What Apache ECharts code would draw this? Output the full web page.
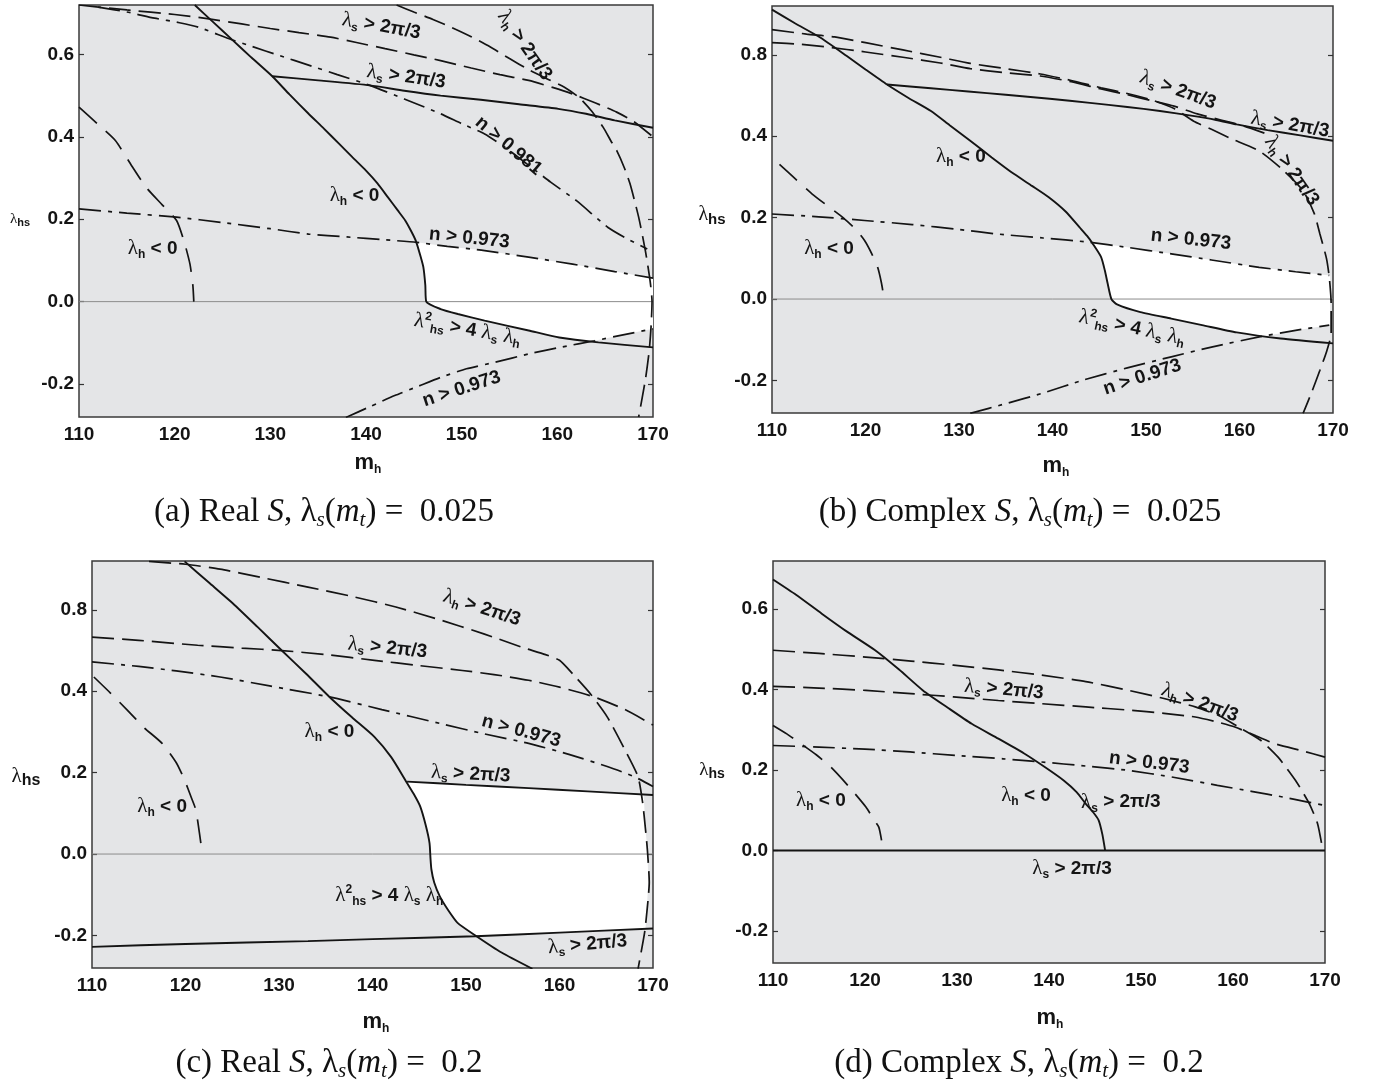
<!DOCTYPE html>
<html>
<head>
<meta charset="utf-8">
<script src="https://cdn.jsdelivr.net/npm/echarts@6/dist/echarts.min.js"></script>
<style>
  html, body { margin: 0; background: #fff; }
  #chart { width: 1378px; height: 1087px; }
</style>
</head>
<body>
<div id="chart"></div>
<script>
// tick values / labels (panels b and c print "0.8" on the top tick)
const yTickValues = [-0.2, 0, 0.2, 0.4, 0.6];
const yLabelsA = ["-0.2", "0.0", "0.2", "0.4", "0.6"];
const yLabelsB = ["-0.2", "0.0", "0.2", "0.4", "0.8"];
const yLabelsC = ["-0.2", "0.0", "0.2", "0.4", "0.8"];
const yLabelsD = ["-0.2", "0.0", "0.2", "0.4", "0.6"];
const zeroLine = [[110, 0], [170, 0]];

// (a) real S, lambda_s = 0.025
const aLamHSolid = [[122.1,0.72],[124,0.679],[126,0.636],[128,0.593],[130.2,0.547],[132,0.503],[134,0.456],[135.6,0.42],[137.2,0.383],[138.6,0.35],[140,0.318],[141.2,0.287],[142.3,0.253],[143.3,0.222],[144.1,0.197],[144.7,0.172],[145.2,0.148],[145.7,0.11],[146,0.083],[146.2,0.04],[146.3,0],[147.8,-0.018],[149.6,-0.03],[152.4,-0.046],[157,-0.07],[160.2,-0.087],[164.3,-0.099],[170,-0.111]];
const aLamSSolid = [[130.2,0.547],[135,0.537],[140.4,0.525],[144,0.512],[147.8,0.5],[152,0.49],[156,0.479],[160.1,0.468],[163,0.456],[166,0.44],[170,0.422]];
const aLamSDash = [[110,0.72],[115,0.708],[120,0.697],[123.4,0.687],[127,0.674],[130,0.663],[133,0.653],[136.3,0.642],[139,0.629],[142,0.614],[145,0.599],[147.8,0.585],[151,0.567],[154,0.551],[157,0.537],[159.5,0.52],[161.6,0.504],[164,0.482],[166.2,0.46],[168,0.437],[170,0.4]];
const aN981 = [[112,0.715],[115,0.703],[117.9,0.688],[120.5,0.677],[122.5,0.666],[125.7,0.638],[128,0.62],[131,0.597],[134,0.574],[137,0.551],[140.4,0.525],[144,0.492],[147.8,0.456],[150,0.432],[152.4,0.407],[154.5,0.375],[156.5,0.34],[159.3,0.29],[162,0.245],[165.3,0.18],[167.5,0.15],[169.4,0.128]];
const aLamHDash = [[143.2,0.72],[145,0.703],[147,0.685],[149,0.665],[151,0.643],[153,0.618],[155,0.59],[157,0.563],[159,0.54],[160.7,0.521],[162.3,0.495],[163.6,0.462],[164.8,0.423],[165.6,0.39],[166.2,0.367],[167,0.325],[167.6,0.286],[168.5,0.205],[169.2,0.124],[169.7,0.05],[169.9,0],[169.8,-0.06],[169.6,-0.12],[169.2,-0.19],[168.5,-0.28]];
const aN973Up = [[110,0.225],[115,0.215],[120.2,0.205],[125,0.192],[130,0.177],[134,0.164],[138,0.157],[142,0.15],[145.3,0.144],[148.5,0.134],[152.4,0.124],[157,0.108],[161.6,0.091],[166,0.073],[170,0.057]];
const aN973Low = [[137.9,-0.281],[140.5,-0.254],[143,-0.228],[145.5,-0.205],[147.8,-0.184],[150.5,-0.163],[153.5,-0.147],[157,-0.127],[160.5,-0.11],[163.9,-0.095],[167,-0.08],[170,-0.066]];
const aLamHLeft = [[110,0.472],[112,0.43],[113.8,0.391],[115.5,0.33],[117,0.278],[118.7,0.235],[120.2,0.197],[121,0.145],[121.6,0.091],[121.9,0.04],[122,0]];
const aWhite = [[145.3,0.144],[145.7,0.11],[146,0.083],[146.2,0.04],[146.3,0],[147.8,-0.018],[149.6,-0.03],[152.4,-0.046],[157,-0.07],[160.2,-0.087],[163.5,-0.097],[167,-0.08],[170,-0.066],[170,0.057],[166,0.073],[161.6,0.091],[157,0.108],[152.4,0.124],[148.5,0.134],[145.3,0.144]];

// (b) complex S, lambda_s = 0.025
const bLamHSolid = [[110,0.711],[112.5,0.677],[115.2,0.642],[118,0.597],[120,0.564],[122.3,0.527],[124.6,0.494],[127,0.462],[129,0.427],[131.2,0.389],[133.5,0.348],[135.9,0.307],[137.8,0.278],[139.6,0.25],[141.4,0.215],[142.9,0.176],[143.7,0.155],[144.3,0.136],[145.2,0.103],[145.6,0.07],[145.9,0.038],[146.3,0],[146.9,-0.013],[149.4,-0.032],[152.7,-0.048],[156,-0.064],[159.7,-0.082],[164.4,-0.097],[170,-0.109]];
const bLamSSolid = [[122.3,0.527],[127,0.518],[131,0.51],[135,0.502],[139.7,0.492],[144,0.482],[148,0.472],[151.5,0.462],[155,0.45],[157.5,0.44],[159.7,0.429],[163,0.415],[166.5,0.402],[170,0.389]];
const bLamHDash = [[110,0.662],[113.7,0.651],[116.7,0.644],[120,0.63],[124,0.612],[128,0.594],[131.2,0.579],[135,0.566],[138.7,0.553],[142,0.537],[145.2,0.519],[148,0.505],[150.5,0.49],[153,0.468],[155.1,0.437],[157,0.417],[159,0.395],[162.1,0.364],[164.5,0.32],[166.8,0.266],[168,0.21],[168.6,0.16],[169.3,0.1],[169.6,0.054],[169.8,-0.01],[169.8,-0.085],[169.3,-0.13],[168.6,-0.175],[167.7,-0.23],[166.8,-0.281]];
const bLamSDash = [[110,0.63],[113,0.626],[116,0.619],[120,0.607],[124,0.594],[128,0.58],[131.2,0.566],[135,0.556],[138.7,0.548],[142,0.534],[145.2,0.516],[148,0.502],[150.5,0.488],[153,0.474],[155.5,0.455],[158,0.44],[160.5,0.425],[163,0.405]];
const bN973Up = [[110,0.209],[115,0.202],[119.9,0.193],[125,0.183],[130,0.171],[134,0.16],[139,0.15],[143.8,0.14],[148,0.127],[152.7,0.111],[157,0.096],[162.1,0.078],[166,0.067],[169.6,0.058]];
const bN973Low = [[131.2,-0.281],[135,-0.257],[139,-0.231],[143.3,-0.199],[148,-0.169],[152.7,-0.142],[157,-0.118],[162.1,-0.093],[166,-0.077],[169.6,-0.064]];
const bLamHLeft = [[110.8,0.331],[112.5,0.295],[114.3,0.258],[116,0.228],[117.6,0.2],[119,0.17],[119.9,0.144],[120.7,0.11],[121.3,0.078],[121.7,0.04],[122,0]];
const bWhite = [[144,0.14],[144.3,0.136],[145.2,0.103],[145.6,0.07],[145.9,0.038],[146.3,0],[146.9,-0.013],[149.4,-0.032],[152.7,-0.048],[156,-0.064],[159.7,-0.082],[162.8,-0.091],[166,-0.077],[169.7,-0.064],[169.7,0.058],[166,0.067],[162.1,0.078],[157,0.096],[152.7,0.111],[148,0.127],[144,0.14]];

// (c) real S, lambda_s = 0.2
const cLamHSolid = [[119.9,0.719],[122.5,0.667],[125.1,0.615],[127.7,0.558],[130.3,0.5],[132.9,0.443],[135.4,0.386],[137.8,0.336],[140.2,0.288],[142,0.238],[143.5,0.182],[144.4,0.148],[145.1,0.117],[145.7,0.07],[146.1,0.027],[146.2,-0.01],[146.3,-0.038],[146.6,-0.07],[147.2,-0.104],[148.1,-0.138],[149.1,-0.169],[151,-0.2],[153.8,-0.242],[157.1,-0.282]];
const cLamSUp = [[143.7,0.178],[150,0.17],[156.7,0.162],[163,0.154],[170,0.145]];
const cLamSLow = [[110,-0.228],[120,-0.221],[133.1,-0.214],[140,-0.209],[151,-0.202],[160,-0.193],[170,-0.183]];
const cLamHDash = [[116.1,0.719],[120,0.712],[123.7,0.7],[128,0.68],[133.1,0.656],[138,0.632],[142.5,0.607],[147,0.577],[151.9,0.541],[156,0.508],[158.5,0.49],[160,0.476],[161.4,0.443],[163.3,0.394],[165.1,0.337],[167,0.256],[168.4,0.19],[168.9,0.125],[169.2,0.06],[169.4,0.01],[169.6,-0.07],[169.4,-0.13],[169.1,-0.193],[168.4,-0.282]];
const cLamSDash = [[110,0.533],[115,0.525],[121.3,0.513],[126,0.506],[130.3,0.5],[135,0.49],[140.2,0.476],[145,0.463],[149.6,0.451],[153,0.441],[156.7,0.427],[160,0.41],[163.7,0.386],[167,0.355],[170,0.317]];
const cN973 = [[110,0.472],[115,0.461],[119,0.45],[123.7,0.435],[129,0.413],[135.4,0.386],[141,0.355],[147.2,0.321],[152,0.295],[156.7,0.272],[161,0.245],[165.1,0.215],[168,0.19],[170,0.166]];
const cLamHLeft = [[110.2,0.435],[112,0.395],[113.8,0.353],[115.6,0.31],[117.5,0.272],[119,0.225],[119.9,0.182],[120.6,0.14],[121.1,0.109],[121.5,0.05],[121.8,0]];
const cWhite = [[143.7,0.178],[144.4,0.148],[145.1,0.117],[145.7,0.07],[146.1,0.027],[146.2,-0.01],[146.3,-0.038],[146.6,-0.07],[147.2,-0.104],[148.1,-0.138],[149.1,-0.169],[150.9,-0.2],[160,-0.193],[169.2,-0.184],[169.5,-0.07],[169.4,0.01],[169.2,0.06],[169,0.146],[163,0.154],[156.7,0.162],[150,0.17],[143.7,0.178]];

// (d) complex S, lambda_s = 0.2
const dLamHSolid = [[110,0.674],[112.5,0.636],[115.3,0.589],[118,0.545],[121.1,0.498],[123.7,0.45],[126.3,0.398],[129,0.355],[131.6,0.315],[134.5,0.278],[137.3,0.241],[139.5,0.208],[141.6,0.174],[143,0.145],[144,0.116],[144.8,0.095],[145.4,0.075],[145.8,0.04],[146.1,0]];
const dLamHDash = [[110,0.498],[115,0.49],[120.1,0.481],[125,0.471],[129.6,0.461],[134.5,0.449],[139.2,0.436],[144,0.42],[148.7,0.398],[152.5,0.378],[155.9,0.357],[158.5,0.335],[160.6,0.307],[163,0.274],[164.9,0.232],[166.8,0.174],[168.3,0.116],[169.2,0.066],[169.7,0.008]];
const dLamSDash = [[110,0.408],[115,0.404],[120.1,0.398],[125,0.39],[129.6,0.382],[134.5,0.373],[139.2,0.365],[144,0.357],[148.7,0.349],[152.5,0.341],[155.9,0.332],[158.2,0.32],[160.2,0.307],[162.5,0.285],[164.5,0.266],[167.5,0.248],[170,0.232]];
const dN973 = [[110,0.261],[115,0.257],[120,0.252],[124.9,0.245],[130,0.236],[135,0.228],[139.2,0.22],[144,0.21],[148.7,0.199],[153.5,0.182],[158.3,0.162],[162,0.147],[165.4,0.133],[168,0.121],[170,0.112]];
const dLamHLeft = [[110,0.311],[111.5,0.29],[113,0.266],[114.7,0.238],[116.3,0.207],[118.2,0.16],[120.1,0.108],[121,0.075],[121.5,0.058],[121.8,0.025]];

// curve labels
const T_LS = "{g|λ}{s|s}{b| > 2π/3}";
const T_LH = "{g|λ}{s|h}{b| > 2π/3}";
const T_NEG = "{g|λ}{s|h}{b| < 0}";
const T_N973 = "{b|n > 0.973}";
const T_N981 = "{b|n > 0.981}";
const T_L2 = "{g|λ}{p|2}{s|hs}{b| > 4 }{g|λ}{s|s}{b| }{g|λ}{s|h}";

const aNotes = [
  { t: T_LS, x: 141.6, y: 0.668, r: -10 },
  { t: T_LH, x: 156.6, y: 0.622, r: -55 },
  { t: T_LS, x: 144.2, y: 0.545, r: -8 },
  { t: T_N981, x: 154.9, y: 0.378, r: -40 },
  { t: T_NEG, x: 138.8, y: 0.258, r: 0 },
  { t: T_N973, x: 150.8, y: 0.154, r: -6 },
  { t: T_NEG, x: 117.7, y: 0.128, r: 0 },
  { t: T_L2, x: 150.6, y: -0.068, r: -10 },
  { t: T_N973, x: 150.0, y: -0.212, r: 18 }
];
const bNotes = [
  { t: T_LS, x: 153.4, y: 0.513, r: -20 },
  { t: T_LS, x: 165.4, y: 0.428, r: -10 },
  { t: T_LH, x: 165.6, y: 0.315, r: -55 },
  { t: T_NEG, x: 130.2, y: 0.35, r: 0 },
  { t: T_N973, x: 154.8, y: 0.146, r: -6 },
  { t: T_NEG, x: 116.1, y: 0.123, r: 0 },
  { t: T_L2, x: 148.5, y: -0.071, r: -12 },
  { t: T_N973, x: 149.6, y: -0.192, r: 18 }
];
const cNotes = [
  { t: T_LH, x: 151.7, y: 0.604, r: -18 },
  { t: T_LS, x: 141.6, y: 0.506, r: -6 },
  { t: T_N973, x: 155.9, y: 0.302, r: -15 },
  { t: T_NEG, x: 135.4, y: 0.3, r: 0 },
  { t: T_LS, x: 150.5, y: 0.196, r: -3 },
  { t: T_NEG, x: 117.5, y: 0.117, r: 0 },
  { t: T_L2, x: 141.8, y: -0.102, r: 0 },
  { t: T_LS, x: 163.0, y: -0.222, r: 5 }
];
const dNotes = [
  { t: T_LS, x: 135.1, y: 0.4, r: -5 },
  { t: T_LH, x: 156.4, y: 0.367, r: -20 },
  { t: T_N973, x: 150.9, y: 0.218, r: -7 },
  { t: T_NEG, x: 115.2, y: 0.124, r: 0 },
  { t: T_NEG, x: 137.5, y: 0.137, r: 0 },
  { t: T_LS, x: 147.8, y: 0.12, r: 0 },
  { t: T_LS, x: 142.5, y: -0.046, r: 0 }
];

const INK = "#141414";
const BOLD = "Liberation Sans";
const rich = {
  b: { fontFamily: BOLD, fontWeight: "bold", fontSize: 19, color: INK, opacity: 1, lineHeight: 24, verticalAlign: "middle" },
  g: { fontFamily: "Liberation Serif", fontSize: 21, color: INK, opacity: 1, lineHeight: 24, verticalAlign: "middle" },
  s: { fontFamily: BOLD, fontWeight: "bold", fontSize: 12, color: INK, opacity: 1, lineHeight: 13, verticalAlign: "bottom" },
  p: { fontFamily: BOLD, fontWeight: "bold", fontSize: 12, color: INK, opacity: 1, lineHeight: 13, verticalAlign: "top" }
};

const dashStyles = {
  solid: { type: "solid", width: 1.9 },
  dash: { type: [22, 8], width: 1.7 },
  ldash: { type: [24, 12], width: 1.7 },
  dashdot: { type: [22, 7, 4, 7], width: 1.7 }
};

const panels = [
  { grid: { left: 79, top: 5, width: 574, height: 412 }, yLabels: yLabelsA,
    curves: [[aLamHSolid, "solid"], [aLamSSolid, "solid"], [aLamSDash, "dash"], [aN981, "dashdot"], [aLamHDash, "dash"],
             [aN973Up, "dashdot"], [aN973Low, "dashdot"], [aLamHLeft, "ldash"]],
    white: aWhite, zero: true, notes: aNotes, yName: [20, 219, 15, 11], xName: [368, 463], caption: [324, 512, "a", "Real", "0.025"] },
  { grid: { left: 772, top: 6, width: 561, height: 407 }, yLabels: yLabelsB,
    curves: [[bLamHSolid, "solid"], [bLamSSolid, "solid"], [bLamHDash, "dash"], [bLamSDash, "dash"],
             [bN973Up, "dashdot"], [bN973Low, "dashdot"], [bLamHLeft, "ldash"]],
    white: bWhite, zero: true, notes: bNotes, yName: [712, 215, 20, 15], xName: [1056, 466], caption: [1020, 512, "b", "Complex", "0.025"] },
  { grid: { left: 92, top: 561, width: 561, height: 407 }, yLabels: yLabelsC,
    curves: [[cLamHSolid, "solid"], [cLamSUp, "solid"], [cLamSLow, "solid"], [cLamHDash, "dash"], [cLamSDash, "dash"],
             [cN973, "dashdot"], [cLamHLeft, "ldash"]],
    white: cWhite, zero: true, notes: cNotes, yName: [26, 776, 21, 16], xName: [376, 1022], caption: [329, 1063, "c", "Real", "0.2"] },
  { grid: { left: 773, top: 561, width: 552, height: 402 }, yLabels: yLabelsD,
    curves: [[dLamHSolid, "solid"], [zeroLine, "solid"], [dLamHDash, "dash"], [dLamSDash, "dash"],
             [dN973, "dashdot"], [dLamHLeft, "ldash"]],
    white: null, zero: false, notes: dNotes, yName: [712, 770, 19, 14], xName: [1050, 1018], caption: [1019, 1063, "d", "Complex", "0.2"] }
];

const option = { animation: false, grid: [], xAxis: [], yAxis: [], series: [], graphic: [] };

panels.forEach((p, i) => {
  option.grid.push(Object.assign({
    show: true, backgroundColor: "#e4e5e7", borderColor: "#3a3a3a", borderWidth: 1.5
  }, p.grid));

  option.xAxis.push({
    gridIndex: i, type: "value", min: 110, max: 170, interval: 10,
    axisLine: { show: false }, axisTick: { show: false }, splitLine: { show: false },
    axisLabel: { fontFamily: BOLD, fontWeight: "bold", fontSize: 19, color: INK, margin: 8 }
  });

  const labels = p.yLabels;
  option.yAxis[i] = {
    gridIndex: i, type: "value", min: -0.28, max: 0.72,
    axisLine: { show: false }, splitLine: { show: false },
    axisTick: { show: true, inside: true, length: 5, customValues: yTickValues, lineStyle: { color: "#333", width: 1.2 } },
    axisLabel: {
      customValues: yTickValues, margin: 5,
      fontFamily: BOLD, fontWeight: "bold", fontSize: 19, color: INK,
      formatter: (v) => {
        const k = yTickValues.findIndex((t) => Math.abs(t - v) < 1e-6);
        return k >= 0 ? labels[k] : "";
      }
    }
  };
  option.yAxis[i + 4] = {
    gridIndex: i, type: "value", min: -0.28, max: 0.72, position: "right",
    axisLine: { show: false }, splitLine: { show: false }, axisLabel: { show: false },
    axisTick: { show: true, inside: true, length: 5, customValues: yTickValues, lineStyle: { color: "#333", width: 1.2 } }
  };

  if (p.white) {
    const poly = p.white;
    option.series.push({
      type: "custom", xAxisIndex: i, yAxisIndex: i, data: [0], z: 1, silent: true,
      renderItem: (params, api) => ({
        type: "polygon",
        shape: { points: poly.map((pt) => api.coord(pt)) },
        style: { fill: "#ffffff" }
      })
    });
  }

  if (p.zero) {
    option.series.push({
      type: "line", xAxisIndex: i, yAxisIndex: i, data: zeroLine, symbol: "none", z: 2, silent: true,
      lineStyle: { color: "#8c8c8c", width: 1 }
    });
  }

  p.curves.forEach(([data, kind]) => {
    option.series.push({
      type: "line", xAxisIndex: i, yAxisIndex: i, data, symbol: "none", smooth: 0.2, z: 3, silent: true,
      lineStyle: Object.assign({ color: INK }, dashStyles[kind])
    });
  });

  option.series.push({
    type: "scatter", xAxisIndex: i, yAxisIndex: i, symbolSize: 0, z: 5, silent: true,
    itemStyle: { opacity: 1 },
    data: p.notes.map((n) => ({ value: [n.x, n.y], label: { formatter: n.t, rotate: n.r } })),
    label: { show: true, position: "inside", color: INK, opacity: 1, textBorderWidth: 0, rich }
  });

  // axis names
  const [yx, yy, gs, ss] = p.yName;
  option.graphic.push({
    type: "text", x: yx, y: yy, silent: true,
    style: {
      text: "{g|λ}{s|hs}", align: "center", verticalAlign: "middle",
      rich: {
        g: { fontFamily: "Liberation Serif", fontSize: gs, fill: INK, lineHeight: gs + 4, verticalAlign: "middle" },
        s: { fontFamily: BOLD, fontWeight: "bold", fontSize: ss, fill: INK, lineHeight: ss, verticalAlign: "bottom" }
      }
    }
  });
  const [mx, my] = p.xName;
  option.graphic.push({
    type: "text", x: mx, y: my, silent: true,
    style: {
      text: "{m|m}{s|h}", align: "center", verticalAlign: "middle",
      rich: {
        m: { fontFamily: BOLD, fontWeight: "bold", fontSize: 22, fill: INK, lineHeight: 26, verticalAlign: "middle" },
        s: { fontFamily: BOLD, fontWeight: "bold", fontSize: 12, fill: INK, lineHeight: 12, verticalAlign: "bottom" }
      }
    }
  });

  // caption
  const [cx, cy, tag, kind, val] = p.caption;
  option.graphic.push({
    type: "text", x: cx, y: cy, silent: true,
    style: {
      text: "{n|(" + tag + ") " + kind + " }{i|S}{n|, λ}{is|s}{n|(}{i|m}{is|t}{n|) =  " + val + "}",
      align: "center", verticalAlign: "middle",
      rich: {
        n: { fontFamily: "Liberation Serif", fontSize: 33, fill: "#111", lineHeight: 38, verticalAlign: "middle" },
        i: { fontFamily: "Liberation Serif", fontStyle: "italic", fontSize: 33, fill: "#111", lineHeight: 38, verticalAlign: "middle" },
        is: { fontFamily: "Liberation Serif", fontStyle: "italic", fontSize: 21, fill: "#111", lineHeight: 24, verticalAlign: "bottom" }
      }
    }
  });
});

const chart = echarts.init(document.getElementById("chart"));
chart.setOption(option);
window.addEventListener("resize", () => chart.resize());
</script>
</body>
</html>
